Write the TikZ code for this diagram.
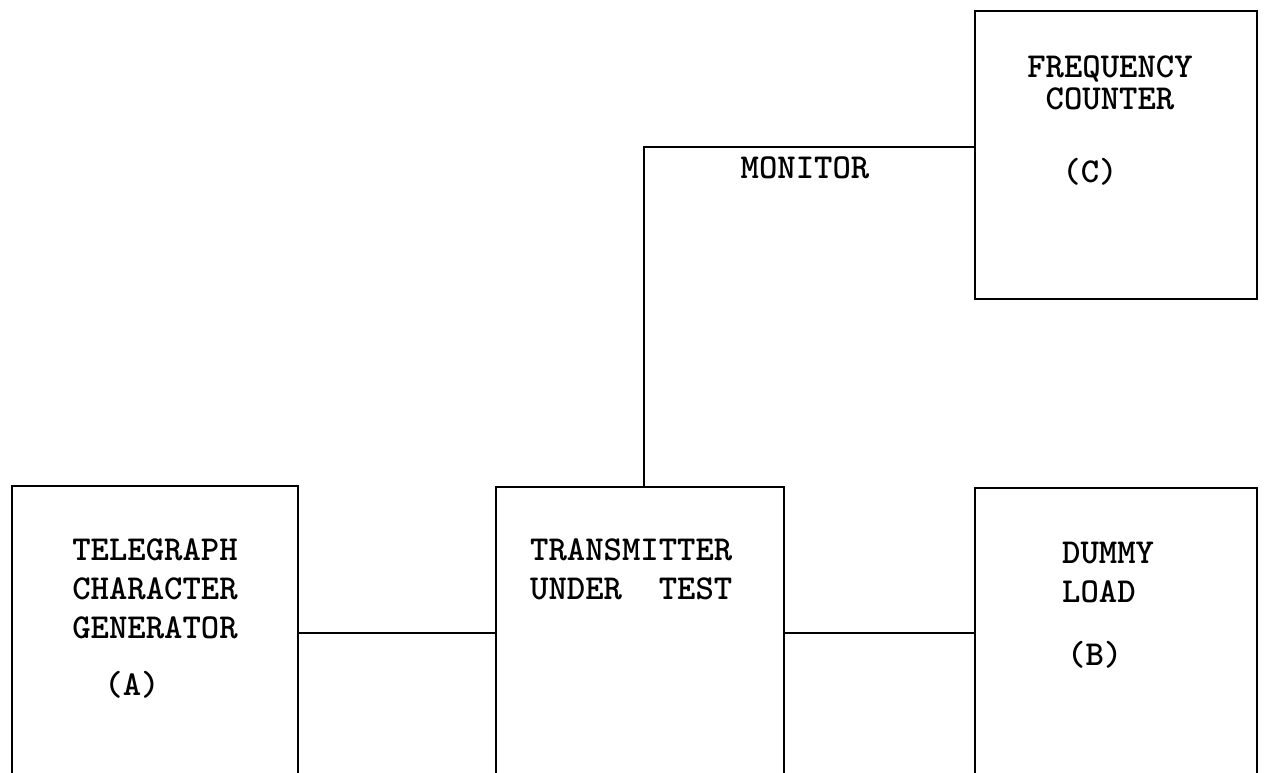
\documentclass[tikz,border=0pt]{standalone}
\usepackage{fontspec}
\usetikzlibrary{positioning}
\tikzset{
	unit/.style={draw, line width=1.6pt, minimum width=#1, minimum height=420pt, anchor=north west, inner sep=0pt},
	wire/.style={line width=1.4pt},
	lbl/.style={inner sep=0pt, font=\ttfamily\bfseries\fontsize{35}{39}\selectfont}
}

\begin{document}
\begin{tikzpicture}[x=1pt, y=-1pt]
		\useasboundingbox (0,0) rectangle (1265,772);
		\clip (0,0) rectangle (1265,772);
		% blocks (bottom row runs off the sheet)
		\node[unit=286pt] (gen) at (11,485) {};
		\node[unit=288pt] (xmtr) at (495,486) {};
		\node[unit=282pt] (load) at (974,487) {};
		\node[unit=282pt, minimum height=288pt] (ctr) at (974,10) {};
		% block texts
		\node[lbl, anchor=north, align=center] (genname) at (155,538) {TELEGRAPH\\CHARACTER\\GENERATOR};
		\node[lbl, anchor=north] (genid) at (132,671) {(A)};
		\node[lbl, anchor=north west, align=left] (xmtrname) at (530,538) {TRANSMITTER\\UNDER\ \ TEST};
		\node[lbl, anchor=north west, align=left] (loadname) at (1062,542) {DUMMY\\LOAD};
		\node[lbl, anchor=north west] (loadid) at (1067,641) {(B)};
		\node[lbl, anchor=north, align=center] (ctrname) at (1110,56) {FREQUENCY\\[-7pt]COUNTER};
		\node[lbl, anchor=north] (ctrid) at (1090,158) {(C)};
		\node[lbl, anchor=north] (mon) at (805,157) {MONITOR};
		% connections
		\coordinate (ya) at (0,633);
		\coordinate (bend) at (644,147);
		\draw[wire] (gen.east |- ya) -- (xmtr.west |- ya);
		\draw[wire] (xmtr.east |- ya) -- (load.west |- ya);
		\draw[wire] (xmtr.north -| bend) -- (bend) -- (ctr.west |- bend);
	\end{tikzpicture}
\end{document}
